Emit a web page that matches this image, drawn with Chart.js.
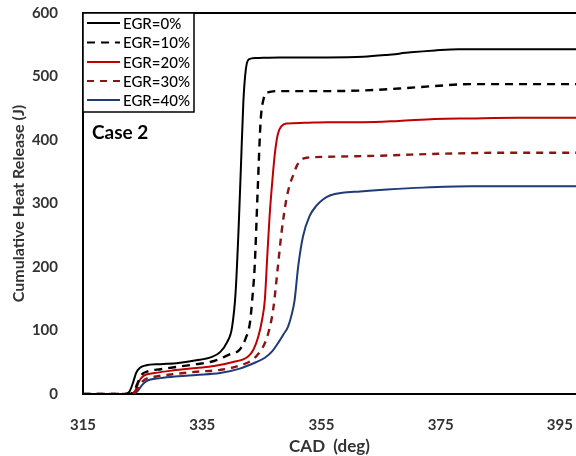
<!DOCTYPE html>
<html>
<head>
<meta charset="utf-8">
<script src="https://cdn.jsdelivr.net/npm/chart.js@4.4.1/dist/chart.umd.min.js"></script>
<style>
  html, body { margin: 0; padding: 0; background: #ffffff; }
  #wrap { width: 576px; height: 456px; position: relative; }
</style>
</head>
<body>
<div id="wrap"><canvas id="c" width="576" height="456"></canvas></div>
<script>
// ---- Data ----
const seriesNames = ['EGR=0%', 'EGR=10%', 'EGR=20%', 'EGR=30%', 'EGR=40%'];

const cad0 = [315, 322, 322.8, 323.4, 323.9, 324.5, 325.5, 328, 331, 334, 336.5, 338, 339.2, 340, 340.6, 341.1, 341.5, 341.9, 342.3, 342.8, 344, 348, 356, 362, 366, 370, 374, 378, 384, 392, 398];
const chr0 = [0, 0, 4, 18, 33, 41, 45, 47, 49, 53, 58, 66, 82, 105, 160, 260, 360, 460, 510, 527, 529, 530, 530, 531, 534, 538, 541, 543, 543, 543, 543];

const cad10 = [315, 322.8, 323.6, 324.2, 324.8, 326, 328, 331, 334, 337, 339.5, 341.3, 342.3, 343, 343.4, 343.8, 344.3, 344.8, 345.3, 346, 348, 352, 356, 362, 368, 374, 380, 386, 392, 398];
const chr10 = [0, 0, 5, 18, 30, 36, 39, 43, 47, 52, 62, 70, 88, 112, 150, 201, 320, 430, 465, 475, 477, 477, 477, 478, 481, 485, 488, 488, 488, 488];

const cad20 = [315, 323, 323.8, 324.4, 325.2, 327, 330, 334, 337, 340, 342.7, 343.6, 344.4, 345, 345.5, 345.9, 346.3, 346.8, 347.2, 347.7, 348.3, 349.2, 352, 356, 362, 368, 374, 380, 388, 398];
const chr20 = [0, 0, 6, 20, 29, 33, 37, 41, 44, 50, 59, 70, 90, 115, 148, 215, 280, 340, 380, 410, 422, 426, 427, 428, 428, 430, 433, 434, 435, 435];

const cad30 = [315, 323.2, 324, 324.6, 325.4, 327.5, 330, 334, 338, 341, 343.8, 345.5, 346.2, 346.9, 347.7, 348.3, 349.1, 349.7, 350.2, 350.9, 351.6, 352.5, 354, 358, 364, 370, 378, 386, 398];
const chr30 = [0, 0, 5, 15, 23, 28, 31, 35, 38, 44, 57, 80, 100, 133, 201, 254, 306, 330, 343, 360, 369, 372, 373, 374, 375, 377, 379, 380, 380];

const cad40 = [315, 323.3, 324.2, 324.9, 325.6, 328, 331, 334, 338, 341.3, 344, 345.5, 346.8, 347.7, 348.7, 349.4, 350, 350.5, 351.1, 351.9, 353, 354.2, 355.2, 356.5, 358.5, 361.5, 366, 372, 380, 390, 398];
const chr40 = [0, 0, 5, 14, 20, 25, 28, 30, 33, 40, 50, 57, 68, 80, 95, 106, 125, 148, 201, 248, 280, 297, 306, 313, 317, 319, 322, 325, 327, 327, 327];

const xTickValues = [315, 335, 355, 375, 395];
const yTickValues = [0, 100, 200, 300, 400, 500, 600];
const xTitle = 'CAD  (deg)';
const yTitle = 'Cumulative Heat Release (J)';
const caseLabel = 'Case 2';

// ---- Build datasets ----
function pts(xs, ys) { return xs.map((x, i) => ({ x: x, y: ys[i] })); }
const styles = [
  { color: '#000000', dash: [] },
  { color: '#000000', dash: [8, 6] },
  { color: '#c00000', dash: [] },
  { color: '#8b1414', dash: [7, 6] },
  { color: '#1f3a78', dash: [] }
];
const xs = [cad0, cad10, cad20, cad30, cad40];
const ys = [chr0, chr10, chr20, chr30, chr40];
const datasets = seriesNames.map((name, i) => ({
  label: name,
  data: pts(xs[i], ys[i]),
  borderColor: styles[i].color,
  backgroundColor: styles[i].color,
  borderDash: styles[i].dash,
  borderWidth: i === 1 || i === 3 ? 2.4 : 2,
  pointRadius: 0,
  fill: false,
  cubicInterpolationMode: 'monotone'
}));

const FONT = 'Lato, "Open Sans", sans-serif';

const decor = {
  id: 'decor',
  afterDraw(chart) {
    const ctx = chart.ctx;
    const a = chart.chartArea;
    ctx.save();
    // top frame line
    ctx.strokeStyle = '#000';
    ctx.lineWidth = 2;
    ctx.beginPath();
    ctx.moveTo(a.left, a.top);
    ctx.lineTo(a.right, a.top);
    ctx.stroke();

    // legend box
    const bx = a.left, by = a.top, bw = 111, bh = 99;
    ctx.fillStyle = '#fff';
    ctx.fillRect(bx, by, bw, bh);
    ctx.lineWidth = 1.5;
    ctx.strokeStyle = '#000';
    ctx.strokeRect(bx, by, bw, bh);
    const rowOff = [10, 29.5, 49, 68, 87];
    chart.data.datasets.forEach((ds, i) => {
      const y = by + rowOff[i];
      ctx.strokeStyle = ds.borderColor;
      ctx.lineWidth = 2;
      ctx.setLineDash(ds.borderDash || []);
      ctx.beginPath();
      ctx.moveTo(bx + 4, y);
      ctx.lineTo(bx + 37, y);
      ctx.stroke();
      ctx.setLineDash([]);
      ctx.fillStyle = '#000';
      ctx.font = '500 15px ' + FONT;
      ctx.textBaseline = 'middle';
      ctx.textAlign = 'left';
      ctx.fillText(ds.label, bx + 40, y + 1);
    });

    // case label
    ctx.fillStyle = '#000';
    ctx.font = 'bold 19px ' + FONT;
    ctx.textBaseline = 'middle';
    ctx.textAlign = 'left';
    ctx.fillText(caseLabel, a.left + 9, a.top + 120);
    ctx.restore();
  }
};

new Chart(document.getElementById('c'), {
  type: 'line',
  data: { datasets: datasets },
  plugins: [decor],
  options: {
    responsive: false,
    animation: false,
    devicePixelRatio: 1,
    layout: { padding: { left: 0, top: 13, right: 0, bottom: 0 } },
    plugins: { legend: { display: false }, tooltip: { enabled: false } },
    scales: {
      x: {
        type: 'linear',
        min: 315,
        max: 397.7,
        afterBuildTicks: (s) => { s.ticks = xTickValues.map(v => ({ value: v })); },
        afterFit: (s) => { s.height = 62; s.paddingLeft = 0; s.paddingRight = 0; },
        grid: { display: false },
        border: { display: true, color: '#000', width: 2 },
        ticks: { padding: 14, color: '#333', font: { family: FONT, size: 15, weight: 'bold' }, maxRotation: 0, autoSkip: false },
        title: { display: true, text: xTitle, color: '#333', font: { family: FONT, size: 17, weight: 'bold' }, padding: { top: 0, bottom: -1 } }
      },
      y: {
        type: 'linear',
        min: 0,
        max: 600,
        afterBuildTicks: (s) => { s.ticks = yTickValues.map(v => ({ value: v })); },
        afterFit: (s) => { s.width = 83; s.paddingTop = 0; s.paddingBottom = 0; },
        grid: { display: false },
        border: { display: true, color: '#000', width: 2 },
        ticks: { padding: 17, color: '#333', font: { family: FONT, size: 15, weight: 'bold' } },
        title: { display: true, text: yTitle, color: '#333', font: { family: FONT, size: 16, weight: 'bold' }, padding: { top: 9, bottom: 0 } }
      }
    }
  }
});
</script>
</body>
</html>
